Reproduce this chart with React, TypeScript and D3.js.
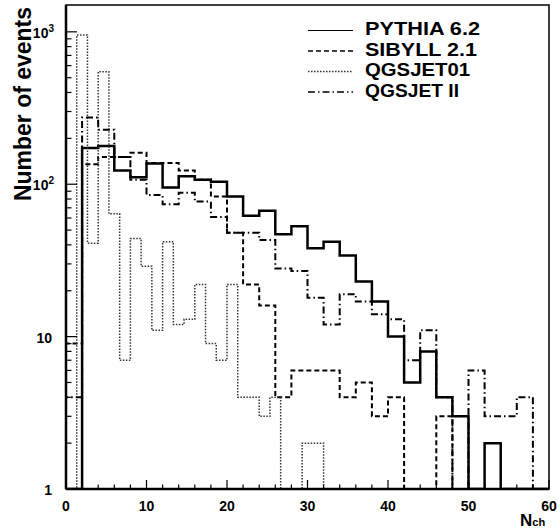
import React from 'react';
import * as d3 from 'd3';

// ---- data (event counts per bin) ----
const xMin = 0;
const xMax = 60;
const binWidthMain = 2; // PYTHIA, SIBYLL, QGSJET II
const binWidthQ01 = 4 / 3; // QGSJET01

const pythia = [0, 173, 178, 123, 111, 137, 95, 113, 107, 104, 83, 62, 67, 47, 53, 38, 42, 34, 23, 17, 10, 5, 8, 4, 3, 0, 2, 0, 0, 0];
const sibyll = [9, 135, 151, 151, 161, 138, 138, 123, 107, 83, 48, 22, 16, 4, 6, 6, 6, 4, 5, 3, 4, 0, 0, 3, 0, 0, 0, 0, 0, 0];
const qgsjet2 = [4, 274, 228, 151, 107, 85, 74, 88, 77, 61, 48, 48, 43, 28, 27, 18, 12, 19, 17, 14, 13, 7, 11, 4, 0, 6, 3, 3, 4, 0];
const qgsjet01 = [0, 953, 41, 547, 64, 7, 44, 29, 11, 42, 12, 13, 22, 9, 7, 22, 4, 4, 3, 4, 0, 0, 2, 2, 0, 0, 0, 0, 0, 0, 0, 0, 0, 0, 0, 0, 0, 0, 0, 0, 0, 0, 0, 0, 0];

const legendLabels = ['PYTHIA 6.2', 'SIBYLL 2.1', 'QGSJET01', 'QGSJET II'];
const xTickLabels = [0, 10, 20, 30, 40, 50, 60];
const yDecades = [1, 10, 100, 1000];
const yLabelExp = ['', '', '2', '3'];
const yLabelBase = ['1', '10', '10', '10'];

const W = 559;
const H = 531;
const L = 66;
const R = 549;
const T = 5;
const B = 489;
const FONT = '"Liberation Sans", Arial, Helvetica, sans-serif';

export default function App() {
  const x = d3.scaleLinear().domain([xMin, xMax]).range([L, R]);
  const y = d3.scaleLog().domain([1, 1500]).range([B, T]);
  const yv = (v: number) => (v >= 1 ? y(v) : B);

  const stepPath = (vals: number[], w: number) => {
    const pts: [number, number][] = [];
    pts.push([x(xMin), B]);
    vals.forEach((v, i) => {
      const x0 = xMin + i * w;
      const x1 = xMin + (i + 1) * w;
      pts.push([x(x0), yv(v)]);
      pts.push([x(x1), yv(v)]);
    });
    pts.push([x(xMin + vals.length * w), B]);
    return d3.line()(pts) as string;
  };

  const series = [
    { vals: pythia, w: binWidthMain, stroke: '#000', sw: 2.5, dash: undefined as string | undefined, lsw: 1.2 },
    { vals: sibyll, w: binWidthMain, stroke: '#000', sw: 2, dash: '5 3', lsw: 1.6 },
    { vals: qgsjet01, w: binWidthQ01, stroke: '#333', sw: 1.5, dash: '1.5 1.5', lsw: 1.4 },
    { vals: qgsjet2, w: binWidthMain, stroke: '#000', sw: 2, dash: '7 3 1.5 3', lsw: 1.4 },
  ];

  const xMinor = d3.range(xMin, xMax + 0.001, 2);
  const yMinor: number[] = [];
  yDecades.forEach((d) => {
    for (let k = 2; k <= 9; k++) if (d * k <= 1500) yMinor.push(d * k);
  });

  const legendY = [30.5, 51, 71.5, 92];
  const legendBase = [35, 55.5, 76, 96.5];
  const legendTL = [115, 112, 105, 94];

  return (
    <svg width={W} height={H} style={{ position: 'fixed', left: 0, top: 0, background: '#fff' }} fontFamily={FONT}>
      <rect x={0} y={0} width={W} height={H} fill="#fff" />
      <defs>
        <clipPath id="plotclip">
          <rect x={L} y={T} width={R - L} height={B - T} />
        </clipPath>
      </defs>
      <g clipPath="url(#plotclip)">
        {series.map((s, i) => (
          <path key={i} d={stepPath(s.vals, s.w)} fill="none" stroke={s.stroke} strokeWidth={s.sw}
            strokeDasharray={s.dash} strokeLinejoin="miter" />
        ))}
      </g>
      {/* frame */}
      <rect x={L} y={T} width={R - L} height={B - T} fill="none" stroke="#000" strokeWidth={1.5} />
      <line x1={L} x2={L} y1={T} y2={B} stroke="#000" strokeWidth={2.5} />
      <line x1={L} x2={R} y1={B} y2={B} stroke="#000" strokeWidth={2.5} />
      {/* x ticks */}
      {xMinor.map((v) => {
        const major = v % 10 === 0;
        return <line key={'xt' + v} x1={x(v)} x2={x(v)} y1={B} y2={B - (major ? 9 : 4.5)} stroke="#000" strokeWidth={1.2} />;
      })}
      {xTickLabels.map((v) => (
        <text key={'xl' + v} x={x(v)} y={511} textAnchor="middle" fontSize={14} fontWeight="bold">{v}</text>
      ))}
      {/* y ticks */}
      {yDecades.map((v) => (
        <line key={'ym' + v} x1={L} x2={L + 11} y1={y(v)} y2={y(v)} stroke="#000" strokeWidth={1.2} />
      ))}
      {yMinor.map((v) => (
        <line key={'yn' + v} x1={L} x2={L + 5.5} y1={y(v)} y2={y(v)} stroke="#000" strokeWidth={1.2} />
      ))}
      {yDecades.map((v, i) => (
        <text key={'yl' + v} x={yLabelExp[i] ? 54 : 52} y={y(v) + 6} textAnchor="end" fontSize={14} fontWeight="bold">
          {yLabelBase[i]}
          {yLabelExp[i] ? <tspan fontSize={10} dy={-6}>{yLabelExp[i]}</tspan> : null}
        </text>
      ))}
      {/* axis titles */}
      <text transform="translate(31,104) rotate(-90)" textAnchor="middle" fontSize={23} fontWeight="bold"
        textLength={194} lengthAdjust="spacingAndGlyphs">Number of events</text>
      <text x={520} y={526} fontSize={17} fontWeight="bold">N<tspan fontSize={11} dy={0}>ch</tspan></text>
      {/* legend */}
      {series.map((s, i) => (
        <g key={'lg' + i}>
          <line x1={308} x2={353} y1={legendY[i]} y2={legendY[i]} stroke={s.stroke} strokeWidth={s.lsw} strokeDasharray={s.dash} />
          <text x={365} y={legendBase[i]} fontSize={18} fontWeight="bold" textLength={legendTL[i]} lengthAdjust="spacingAndGlyphs">
            {legendLabels[i]}
          </text>
        </g>
      ))}
    </svg>
  );
}
